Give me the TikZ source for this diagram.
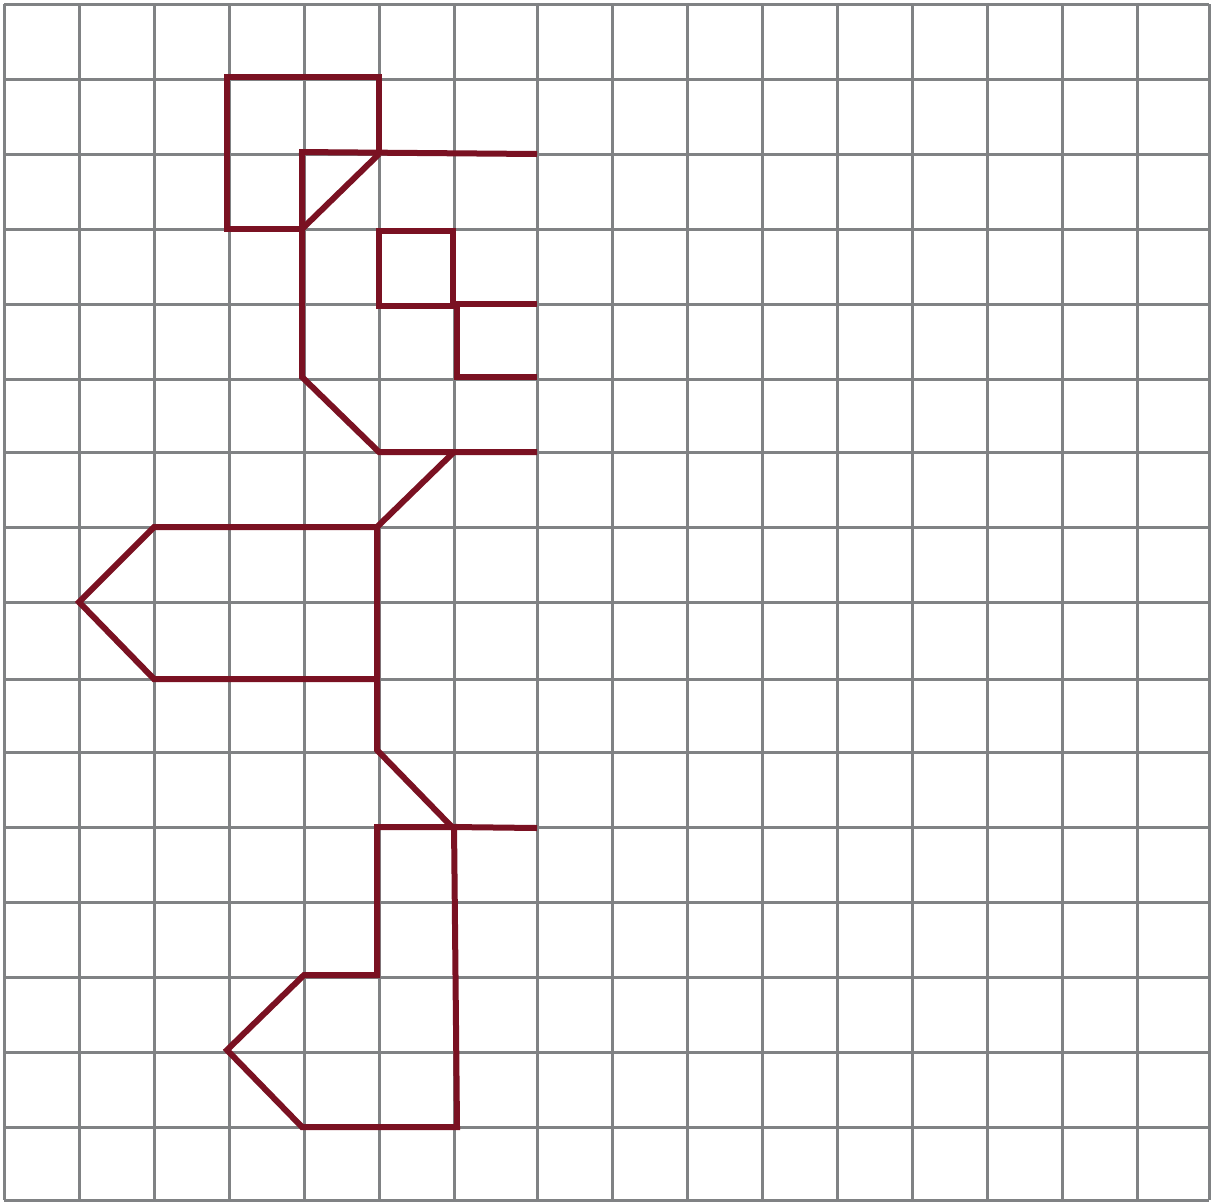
\documentclass[tikz,border=0pt]{standalone}
\definecolor{gridgray}{RGB}{128,130,132}
\definecolor{maroon}{RGB}{122,17,34}
\tikzset{
  gridline/.style={line width=3pt,gridgray},
  figline/.style={line width=6pt,maroon}
}
\begin{document}
\begin{tikzpicture}[x=1pt,y=-1pt]
  \useasboundingbox (0,0) rectangle (1212,1203);
  \fill[white] (0,0) rectangle (1212,1203);
  % grid
  \foreach \gx in {4,79,154,229,304,379,454,537,612,687,762,837,912,987,1062,1137,1209}
    \draw[gridline] (\gx,4) -- (\gx,1200);
  \foreach \gy in {4,79,154,229,304,379,452,527,602,679,752,827,902,977,1052,1127,1200}
    \draw[gridline] (4,\gy) -- (1209,\gy);
  % head
  \draw[figline] (304,229) -- (227,229) -- (227,77) -- (379,77) -- (379,154);
  \draw[figline] (299,152) -- (537,154);
  \draw[figline] (379,154) -- (302,229);
  \draw[figline] (302,149) -- (302,377) -- (379,452) -- (537,452);
  \draw[figline] (379,231) rectangle (453,306);
  \draw[figline] (453,304) -- (537,304);
  \draw[figline] (457,304) -- (457,377) -- (537,377);
  % body
  \draw[figline] (454,452) -- (377,527);
  \draw[figline] (377,527) -- (154,527) -- (79,602) -- (154,679) -- (377,679);
  \draw[figline] (377,524) -- (377,750) -- (452,827) -- (537,828);
  % foot
  \draw[figline] (452,827) -- (377,827) -- (377,975) -- (304,975) -- (227,1050)
    -- (302,1127) -- (457,1127) -- (454,824);
\end{tikzpicture}
\end{document}
